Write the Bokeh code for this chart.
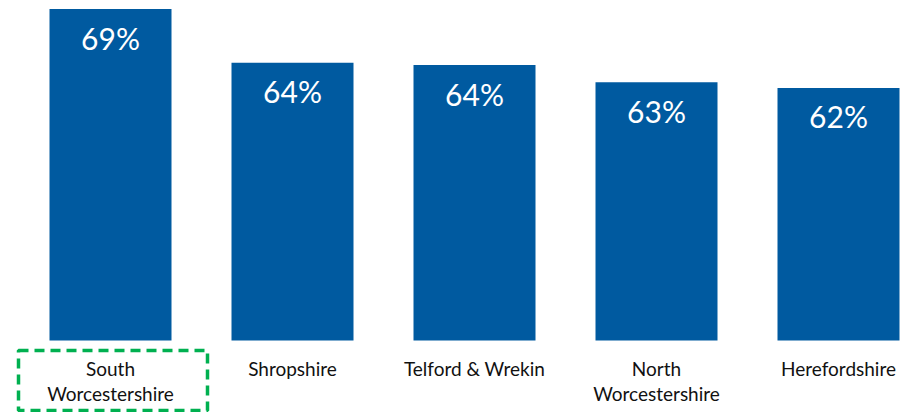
from bokeh.plotting import figure
from bokeh.models import Range1d, ColumnDataSource
from bokeh.core.properties import value
from bokeh.embed import file_html
from bokeh.resources import INLINE

categories = ["South\nWorcestershire", "Shropshire", "Telford & Wrekin", "North\nWorcestershire", "Herefordshire"]
values = [69.0, 64.3, 64.1, 62.6, 62.1]
labels = ["69%", "64%", "64%", "63%", "62%"]

BASE = 40.0
PX_PER_UNIT = 11.43
PITCH = 182.0
W, H = 908, 412
BASE_PX = 340.0   # pixel row of the value axis baseline
FIRST_PX = 110.0  # pixel column of first category centre

x_start = -FIRST_PX / PITCH
x_end = x_start + W / PITCH
y_end = BASE + BASE_PX / PX_PER_UNIT
y_start = BASE - (H - BASE_PX) / PX_PER_UNIT

xs = list(range(len(categories)))
src = ColumnDataSource(dict(
    x=xs, top=values, lab=labels, cat=categories,
    laby=[v - 28.5 / PX_PER_UNIT for v in values],
    caty=[BASE - 16.0 / PX_PER_UNIT] * len(xs),
))

p = figure(width=W, height=H, output_backend="svg", toolbar_location=None,
           x_range=Range1d(x_start, x_end), y_range=Range1d(y_start, y_end),
           min_border=0, outline_line_color=None)
p.axis.visible = False
p.grid.visible = False
p.background_fill_color = "white"

p.vbar(x="x", top="top", bottom=BASE, width=122.0 / PITCH, source=src,
       fill_color="#005AA0", line_color=None)

p.text(x="x", y="laby", text="lab", source=src, text_align="center",
       text_baseline="middle", text_color="white",
       text_font=value("Lato"), text_font_size="30px")

p.text(x="x", y="caty", text="cat", source=src, text_align="center",
       text_baseline="top", text_color="#111111",
       text_font=value("Lato"), text_font_size="19px", text_line_height=1.1)

# highlight box around first category label
bx0 = x_start + 18.0 / PITCH
bx1 = x_start + 207.0 / PITCH
by0 = BASE - 70.0 / PX_PER_UNIT
by1 = BASE - 10.0 / PX_PER_UNIT
p.quad(left=[bx0], right=[bx1], bottom=[by0], top=[by1], fill_color=None,
       line_color="#00B050", line_width=3.5, line_dash="10 6")

open("out.html", "w").write(file_html(p, INLINE))
